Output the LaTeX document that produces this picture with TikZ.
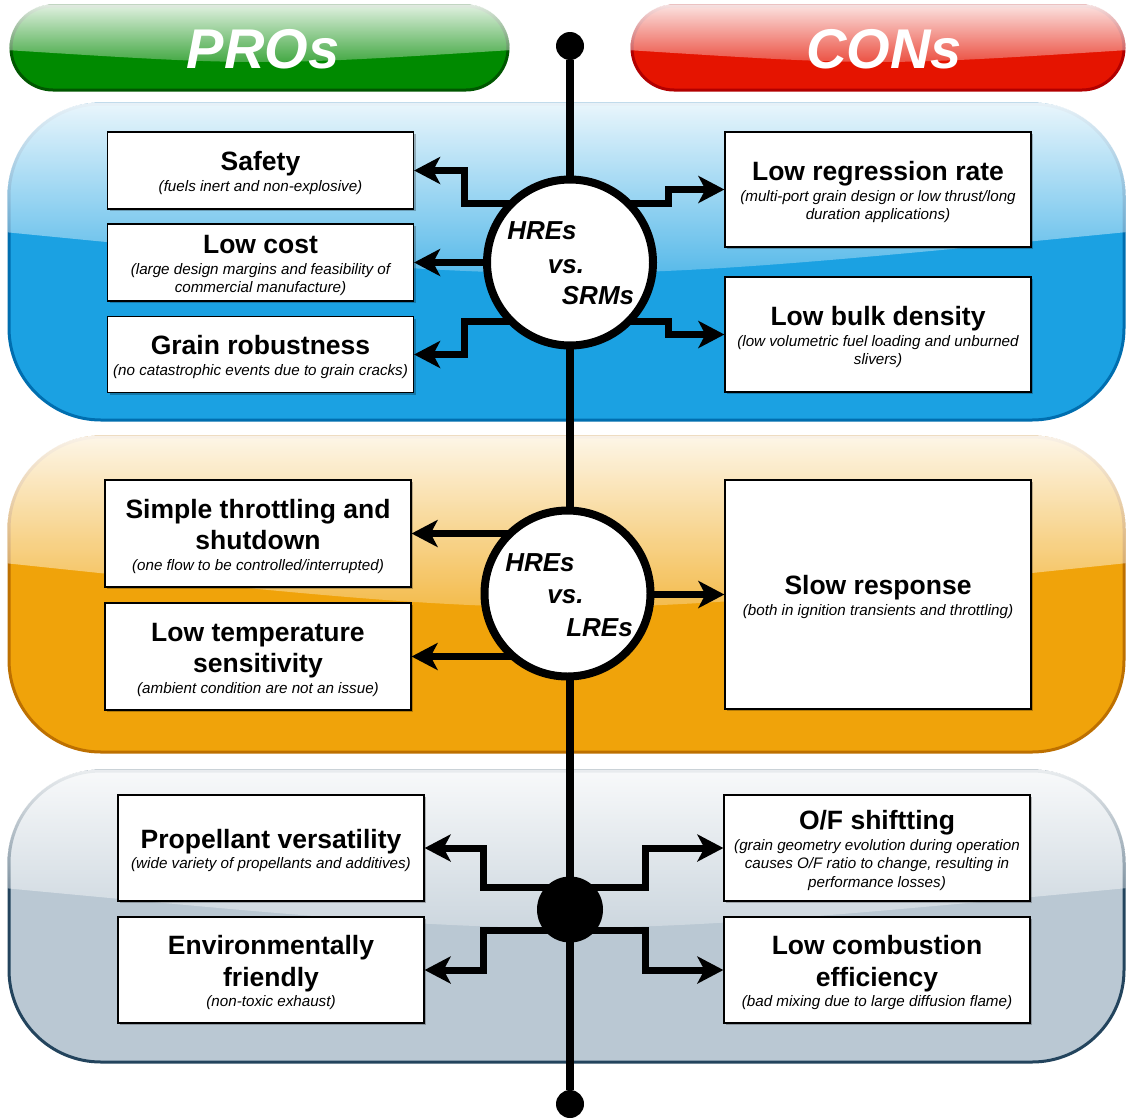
\documentclass[tikz,border=0pt]{standalone}
\usepackage{fontspec}
\newfontfamily\arial{Liberation Sans}
\usetikzlibrary{arrows.meta,shadows,fadings}

% drawio-like palette
\definecolor{grnbase}{HTML}{008A00}\definecolor{grnline}{HTML}{005700}
\definecolor{redbase}{HTML}{E51400}\definecolor{redline}{HTML}{B20000}
\definecolor{blubase}{HTML}{1BA1E2}\definecolor{bluline}{HTML}{006EAF}
\definecolor{orgbase}{HTML}{F0A30A}\definecolor{orgline}{HTML}{BD7000}
\definecolor{grybase}{HTML}{BAC8D3}\definecolor{gryline}{HTML}{23445D}

\tikzfading[name=glassfade, top color=transparent!8, bottom color=transparent!78]

\pgfdeclarelayer{panels}\pgfdeclarelayer{wires}
\pgfsetlayers{panels,wires,main}

% fonts
\newcommand\ttlfont{\arial\bfseries\fontsize{26.5}{32}\selectfont}
\newcommand\subfont{\arial\itshape\fontsize{15.2}{18}\selectfont}
\newcommand\cirfont{\arial\bfseries\itshape\fontsize{26}{30}\selectfont}
\newcommand\banfont{\arial\bfseries\itshape\fontsize{56}{60}\selectfont}

% one centred line of zero width, shifted by #1
\newcommand\midln[2]{\hbox to 0pt{\kern#1\hbox to 0pt{\hss\smash{#2}\hss}\hss}}
% stacked lines with exact baseline distances
\newcommand\stk[1]{\vbox{\offinterlineskip\kern21pt #1}}
\newcommand\tA[1]{\midln{0pt}{\ttlfont #1}}
\newcommand\tB[1]{\kern31.5pt\midln{0pt}{\ttlfont #1}}
\newcommand\sA[1]{\kern20.5pt\midln{0pt}{\subfont #1}}
\newcommand\sB[1]{\kern18.3pt\midln{0pt}{\subfont #1}}

% glossy rounded panel: x0,y0,x1,y1,radius,fill,stroke,gloss edge y,gloss control y
\newcommand\glasspanel[9]{%
  \filldraw[fill=#6, draw=#7, line width=3pt, rounded corners=#5] (#1,#2) rectangle (#3,#4);
  \begin{scope}
    \clip[rounded corners=#5] (#1-1.5,#2-1.5) rectangle (#3+1.5,#4+1.5);
    \fill[white, path fading=glassfade] (#1-5,#2-5) -- (#3+5,#2-5) -- (#3+5,#8)
      .. controls ({(#1+#3)/2},#9) .. (#1-5,#8) -- cycle;
  \end{scope}}

\tikzset{
  box/.style={draw=black, line width=1.2pt, fill=white, minimum width=306pt,
    inner sep=0pt, drop shadow={shadow xshift=2pt, shadow yshift=-2pt, opacity=0.25, fill=black}},
  hub/.style={circle, draw=black, line width=8pt, fill=white, minimum size=166pt, inner sep=0pt},
  enddot/.style={circle, fill=black, minimum size=28pt, inner sep=0pt},
  conn/.style={line width=7pt, -{Stealth[length=26pt,width=27pt,inset=7pt]}},
  bantext/.style={anchor=base, text=white, font=\banfont, inner sep=0pt},
}

\begin{document}
\begin{tikzpicture}[x=1pt,y=-1pt]
\useasboundingbox (0,0) rectangle (1126,1119);

\begin{pgfonlayer}{panels}
  \fill[white] (0,0) rectangle (1126,1119);
  \glasspanel{11}{6}{508}{90}{42pt}{grnbase}{grnline}{50}{66}
  \glasspanel{632}{6}{1124}{90}{42pt}{redbase}{redline}{50}{66}
  \glasspanel{9}{104}{1124}{420}{92pt}{blubase}{bluline}{232}{287}
  \glasspanel{9}{437}{1124}{752}{92pt}{orgbase}{orgline}{563}{622}
  \glasspanel{9}{771}{1124}{1062}{92pt}{grybase}{gryline}{888}{941}
\end{pgfonlayer}

% headers
\node[bantext] (pros) at (263,68) {PROs};
\node[bantext] (cons) at (884,68) {CONs};

% spine end points and hubs
\node[enddot] (topdot) at (570,46) {};
\node[enddot] (botdot) at (570,1104) {};

\node[hub] (hub1) at (570,262.5) {\vbox{\offinterlineskip\kern18pt
  \midln{-28pt}{\cirfont HREs}\kern34pt\midln{-4pt}{\cirfont vs.}\kern31pt\midln{28pt}{\cirfont SRMs}}};
\node[hub] (hub2) at (567.5,593.5) {\vbox{\offinterlineskip\kern20pt
  \midln{-27.5pt}{\cirfont HREs}\kern32pt\midln{-2pt}{\cirfont vs.}\kern33pt\midln{32pt}{\cirfont LREs}}};
\node[circle, fill=black, minimum size=66pt, inner sep=0pt] (junc) at (570,909.5) {};

% HREs vs. SRMs
\node[box, minimum height=77pt] (safety) at (260.5,170.5)
  {\stk{\tA{Safety}\sA{(fuels inert and non-explosive)}}};
\node[box, minimum height=77pt] (lowcost) at (260.5,262.5)
  {\stk{\tA{Low cost}\sA{(large design margins and feasibility of}\sB{commercial manufacture)}}};
\node[box, minimum height=76pt] (grain) at (260.5,354.5)
  {\stk{\tA{Grain robustness}\sA{(no catastrophic events due to grain cracks)}}};
\node[box, minimum height=115pt] (lowreg) at (878,189.5)
  {\stk{\tA{Low regression rate}\sA{(multi-port grain design or low thrust/long}\sB{duration applications)}}};
\node[box, minimum height=115pt] (lowbulk) at (878,334.5)
  {\stk{\tA{Low bulk density}\sA{(low volumetric fuel loading and unburned}\sB{slivers)}}};

% HREs vs. LREs
\node[box, minimum height=107pt] (simple) at (258,533.5)
  {\stk{\tA{Simple throttling and}\tB{shutdown}\sA{(one flow to be controlled/interrupted)}}};
\node[box, minimum height=107pt] (lowtemp) at (258,656.5)
  {\stk{\tA{Low temperature}\tB{sensitivity}\sA{(ambient condition are not an issue)}}};
\node[box, minimum height=229pt] (slow) at (878,594.5)
  {\stk{\tA{Slow response}\sA{(both in ignition transients and throttling)}}};

% common items
\node[box, minimum height=106pt] (prop) at (271,848)
  {\stk{\tA{Propellant versatility}\sA{(wide variety of propellants and additives)}}};
\node[box, minimum height=106pt] (env) at (271,970)
  {\stk{\tA{Environmentally}\tB{friendly}\sA{(non-toxic exhaust)}}};
\node[box, minimum height=106pt] (ofs) at (877,848)
  {\stk{\tA{O/F shiftting}\sA{(grain geometry evolution during operation}\sB{causes O/F ratio to change, resulting in}\sB{performance losses)}}};
\node[box, minimum height=106pt] (comb) at (877,970)
  {\stk{\tA{Low combustion}\tB{efficiency}\sA{(bad mixing due to large diffusion flame)}}};

\begin{pgfonlayer}{wires}
  \draw[line width=8pt] (topdot) -- (botdot);

  \draw[conn] (hub1.center) ++(0,-59.5) -| ([xshift=50pt]safety.east) -- (safety.east);
  \draw[conn] (hub1.center) -- (lowcost.east);
  \draw[conn] (hub1.center) ++(0,58.5) -| ([xshift=50pt]grain.east) -- (grain.east);
  \draw[conn] (hub1.center) ++(0,-59.5) -| ([xshift=-56pt]lowreg.west) -- (lowreg.west);
  \draw[conn] (hub1.center) ++(0,58.5) -| ([xshift=-56pt]lowbulk.west) -- (lowbulk.west);

  \draw[conn] (hub2.center |- simple.east) -- (simple.east);
  \draw[conn] (hub2.center |- lowtemp.east) -- (lowtemp.east);
  \draw[conn] (hub2.center |- slow.west) -- (slow.west);

  \draw[conn] (junc.center) ++(0,-22.5) -| ([xshift=59pt]prop.east) -- (prop.east);
  \draw[conn] (junc.center) ++(0,21) -| ([xshift=59pt]env.east) -- (env.east);
  \draw[conn] (junc.center) ++(0,-22.5) -| ([xshift=-78pt]ofs.west) -- (ofs.west);
  \draw[conn] (junc.center) ++(0,21) -| ([xshift=-78pt]comb.west) -- (comb.west);
\end{pgfonlayer}
\end{tikzpicture}
\end{document}
